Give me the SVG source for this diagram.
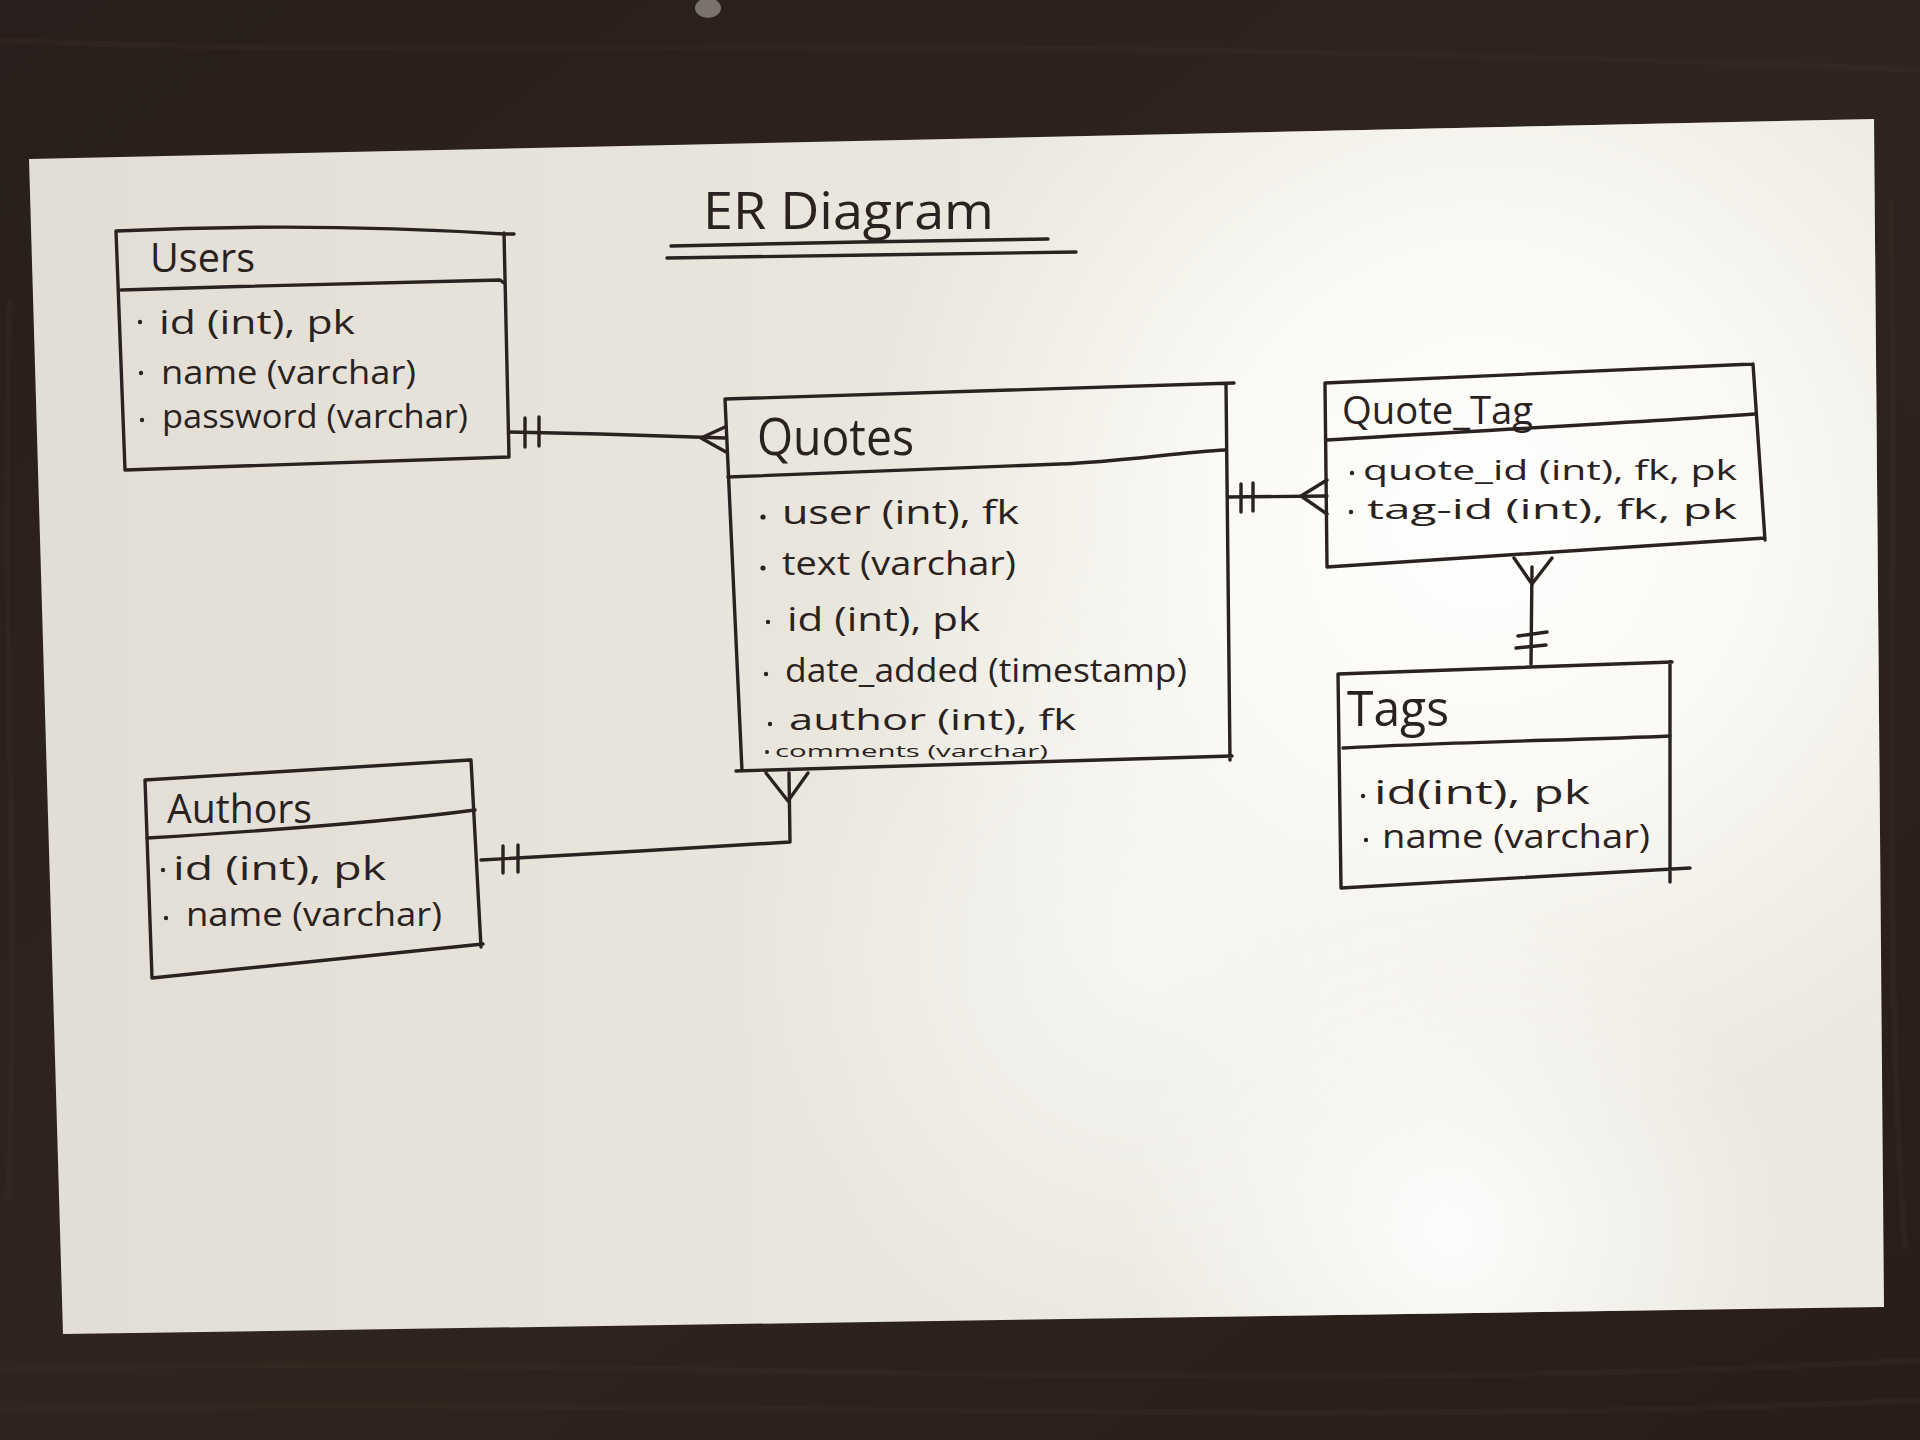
<svg xmlns="http://www.w3.org/2000/svg" width="1920" height="1440" viewBox="0 0 1920 1440">
  <style>
    .ln { fill: none; stroke: #2a2220; stroke-width: 3.4; stroke-linecap: round; stroke-linejoin: round; }
    .t { font-family: "Open Sans", "Liberation Sans", sans-serif; fill: #2a2220; }
    .hd { font-size: 40px; }
    .at { font-size: 33px; }
    .dot { fill: #2a2220; }
  </style>
  <defs>
    <linearGradient id="bg" x1="0" y1="0" x2="1" y2="1">
      <stop offset="0" stop-color="#281e1b"/>
      <stop offset="0.5" stop-color="#30241e"/>
      <stop offset="1" stop-color="#291d19"/>
    </linearGradient>
    <linearGradient id="paper" x1="0" y1="0" x2="1" y2="0">
      <stop offset="0" stop-color="#e2ded5"/>
      <stop offset="0.5" stop-color="#eae7de"/>
      <stop offset="1" stop-color="#ece9e1"/>
    </linearGradient>
    <radialGradient id="glare1" cx="1480" cy="520" r="620" gradientUnits="userSpaceOnUse">
      <stop offset="0" stop-color="#ffffff" stop-opacity="1"/>
      <stop offset="0.45" stop-color="#fdfcf8" stop-opacity="0.85"/>
      <stop offset="1" stop-color="#fbfaf5" stop-opacity="0"/>
    </radialGradient>
    <radialGradient id="glare2" cx="1450" cy="1230" r="330" gradientUnits="userSpaceOnUse">
      <stop offset="0" stop-color="#ffffff" stop-opacity="0.9"/>
      <stop offset="1" stop-color="#ffffff" stop-opacity="0"/>
    </radialGradient>
    <radialGradient id="glare3" cx="1150" cy="950" r="420" gradientUnits="userSpaceOnUse">
      <stop offset="0" stop-color="#ffffff" stop-opacity="0.6"/>
      <stop offset="1" stop-color="#ffffff" stop-opacity="0"/>
    </radialGradient>
    <clipPath id="paperclip">
      <polygon points="29,159 1874,119 1884,1307 63,1334"/>
    </clipPath>
  </defs>

  <rect x="0" y="0" width="1920" height="1440" fill="url(#bg)"/>
  <g stroke="#3d2f28" stroke-width="6" opacity="0.35" fill="none">
    <path d="M0,40 C400,60 900,30 1920,70"/>
    <path d="M0,1370 C500,1350 1200,1400 1920,1360"/>
    <path d="M0,1410 C600,1395 1300,1430 1920,1400"/>
    <path d="M1890,200 C1900,500 1880,900 1905,1250"/>
    <path d="M10,300 C0,600 20,900 8,1200"/>
  </g>
  <ellipse cx="708" cy="8" rx="13" ry="10" fill="#8d8880" opacity="0.8"/>

  <polygon points="29,159 1874,119 1884,1307 63,1334" fill="url(#paper)"/>
  <g clip-path="url(#paperclip)">
    <rect x="0" y="0" width="1920" height="1440" fill="url(#glare3)"/>
    <rect x="0" y="0" width="1920" height="1440" fill="url(#glare1)"/>
    <rect x="0" y="0" width="1920" height="1440" fill="url(#glare2)"/>
  </g>

  <g id="title">
    <text class="t" x="703" y="229" font-size="52" textLength="291" lengthAdjust="spacingAndGlyphs">ER Diagram</text>
    <path class="ln" d="M671,246 L860,242 L1048,239"/>
    <path class="ln" d="M667,258 L870,255 L1076,252"/>
  </g>

  <g id="connectors">
    <path class="ln" d="M509,432 L600,434 L725,438"/>
    <path class="ln" d="M525,418 L525,447 M539,417 L539,446"/>
    <path class="ln" d="M725,427 L701,438 L726,452"/>
    <path class="ln" d="M481,860 L640,851 L790,842 L789,773"/>
    <path class="ln" d="M503,846 L503,873 M518,845 L518,872"/>
    <path class="ln" d="M766,773 L788,801 L808,773"/>
    <path class="ln" d="M1228,497 L1327,496"/>
    <path class="ln" d="M1241,484 L1241,512 M1253,483 L1253,511"/>
    <path class="ln" d="M1327,480 L1301,496 L1327,514"/>
    <path class="ln" d="M1532,567 L1531,664"/>
    <path class="ln" d="M1514,558 L1532,584 L1552,558"/>
    <path class="ln" d="M1518,636 L1547,632 M1516,648 L1546,645"/>
  </g>

  <g id="users">
    <path class="ln" d="M116,231 Q310,222 504,234 L514,234 M116,231 L125,470 M504,233 L509,457 M125,470 L509,457"/>
    <path class="ln" d="M121,290 C250,286 400,282 500,280 L504,283"/>
    <text class="t hd" x="150" y="272" textLength="105" lengthAdjust="spacingAndGlyphs">Users</text>
    <circle class="dot" cx="140" cy="322" r="2.2"/>
    <text class="t at" x="159" y="334" textLength="196" lengthAdjust="spacingAndGlyphs">id (int), pk</text>
    <circle class="dot" cx="141" cy="373" r="2.2"/>
    <text class="t at" x="161" y="384" textLength="255" lengthAdjust="spacingAndGlyphs">name (varchar)</text>
    <circle class="dot" cx="142" cy="420" r="2.2"/>
    <text class="t at" x="162" y="428" textLength="306" lengthAdjust="spacingAndGlyphs">password (varchar)</text>
  </g>

  <g id="quotes">
    <path class="ln" d="M725,399 L1234,383 M725,399 L742,771 M1226,384 L1230,760 M736,771 L1232,756"/>
    <path class="ln" d="M728,477 C900,471 1000,466 1060,464 S1180,452 1225,450"/>
    <text class="t" x="757" y="455" font-size="52" textLength="157" lengthAdjust="spacingAndGlyphs">Quotes</text>
    <circle class="dot" cx="763" cy="517" r="2.6"/>
    <text class="t at" x="782" y="524" textLength="237" lengthAdjust="spacingAndGlyphs">user (int), fk</text>
    <circle class="dot" cx="763" cy="568" r="2.6"/>
    <text class="t at" x="782" y="575" textLength="234" lengthAdjust="spacingAndGlyphs">text (varchar)</text>
    <circle class="dot" cx="768" cy="622" r="2.2"/>
    <text class="t at" x="787" y="631" textLength="193" lengthAdjust="spacingAndGlyphs">id (int), pk</text>
    <circle class="dot" cx="766" cy="674" r="2.2"/>
    <text class="t at" x="785" y="682" textLength="402" lengthAdjust="spacingAndGlyphs">date_added (timestamp)</text>
    <circle class="dot" cx="770" cy="724" r="2.2"/>
    <text class="t" x="789" y="730" font-size="30" textLength="287" lengthAdjust="spacingAndGlyphs">author (int), fk</text>
    <circle class="dot" cx="767" cy="752" r="2"/>
    <text class="t" x="775" y="757" font-size="16" textLength="273" lengthAdjust="spacingAndGlyphs">comments (varchar)</text>
  </g>

  <g id="quote_tag">
    <path class="ln" d="M1325,383 L1753,364 M1325,383 L1327,567 M1753,364 L1765,540 M1327,567 L1765,538"/>
    <path class="ln" d="M1327,440 C1450,432 1600,425 1755,414"/>
    <text class="t" x="1342" y="424" font-size="38" textLength="191" lengthAdjust="spacingAndGlyphs">Quote_Tag</text>
    <circle class="dot" cx="1352" cy="473" r="2.2"/>
    <text class="t" x="1363" y="480" font-size="28" textLength="374" lengthAdjust="spacingAndGlyphs">quote_id (int), fk, pk</text>
    <circle class="dot" cx="1351" cy="512" r="2.2"/>
    <text class="t" x="1367" y="519" font-size="28" textLength="370" lengthAdjust="spacingAndGlyphs">tag-id (int), fk, pk</text>
  </g>

  <g id="tags">
    <path class="ln" d="M1338,674 L1672,662 M1338,674 L1341,888 M1670,662 L1670,882 M1341,888 L1690,868"/>
    <path class="ln" d="M1343,748 C1450,742 1580,740 1670,736"/>
    <text class="t" x="1347" y="726" font-size="50" textLength="102" lengthAdjust="spacingAndGlyphs">Tags</text>
    <circle class="dot" cx="1363" cy="796" r="2.2"/>
    <text class="t at" x="1374" y="804" textLength="216" lengthAdjust="spacingAndGlyphs">id(int), pk</text>
    <circle class="dot" cx="1366" cy="840" r="2.2"/>
    <text class="t at" x="1382" y="848" textLength="268" lengthAdjust="spacingAndGlyphs">name (varchar)</text>
  </g>

  <g id="authors">
    <path class="ln" d="M145,780 L470,760 M145,780 L152,978 M471,760 L481,947 M152,978 L483,944"/>
    <path class="ln" d="M147,838 C280,830 400,820 475,810"/>
    <text class="t hd" x="167" y="823" textLength="145" lengthAdjust="spacingAndGlyphs">Authors</text>
    <circle class="dot" cx="163" cy="870" r="2.2"/>
    <text class="t at" x="173" y="880" textLength="213" lengthAdjust="spacingAndGlyphs">id (int), pk</text>
    <circle class="dot" cx="166" cy="918" r="2.2"/>
    <text class="t at" x="186" y="926" textLength="256" lengthAdjust="spacingAndGlyphs">name (varchar)</text>
  </g>
</svg>
